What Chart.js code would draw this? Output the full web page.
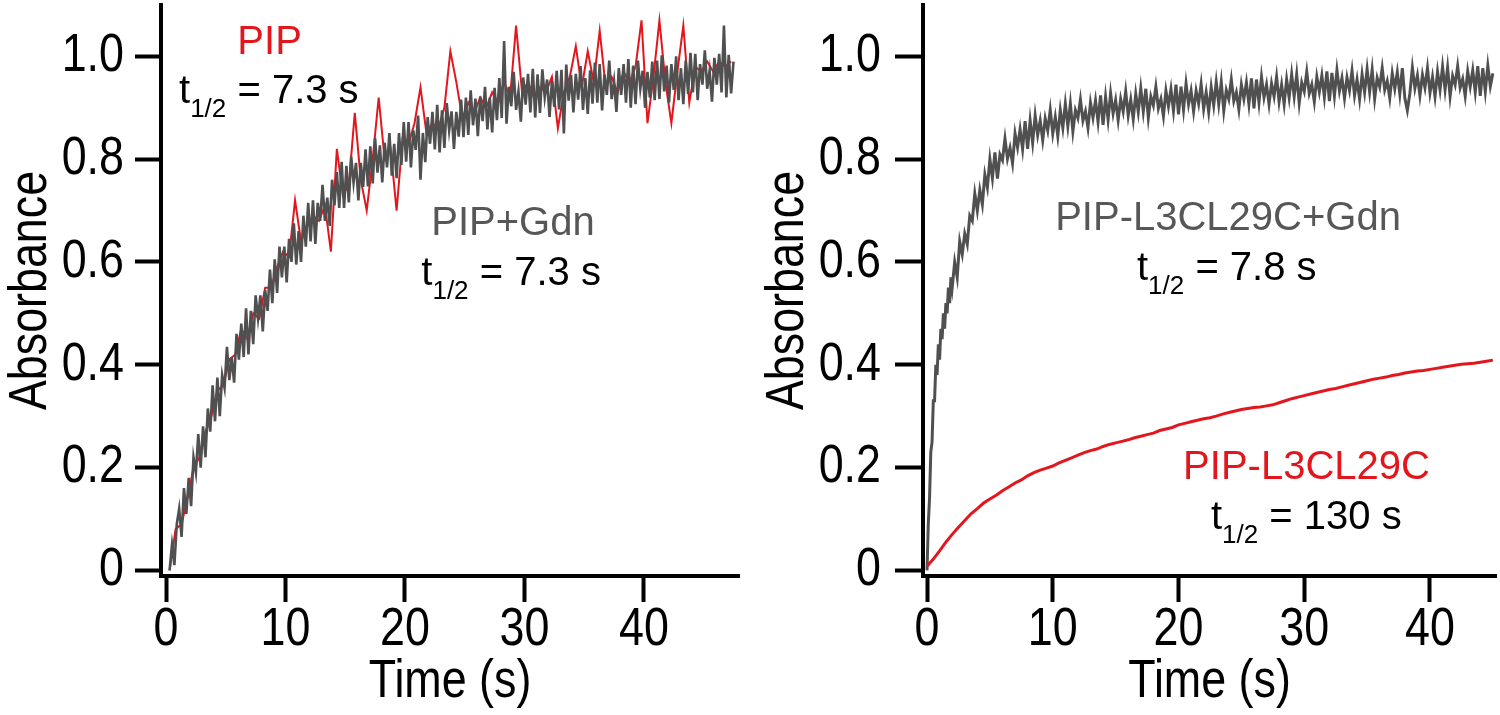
<!DOCTYPE html>
<html><head><meta charset="utf-8">
<script src="https://cdn.jsdelivr.net/npm/chart.js@4.4.1/dist/chart.umd.min.js"></script>
<style>
html,body{margin:0;padding:0;background:#fff;}
#wrap{position:relative;width:1500px;height:715px;overflow:hidden;}
.c{position:absolute;top:0;width:750px;height:715px;}
</style></head><body>
<div id="wrap">
<div class="c" style="left:0"><canvas id="left" width="750" height="715"></canvas></div>
<div class="c" style="left:750px"><canvas id="right" width="750" height="715"></canvas></div>
</div>
<script>
// ---------- data (Absorbance vs Time (s)) ----------
const xTicks = [0, 10, 20, 30, 40];
const xTickLabels = ['0', '10', '20', '30', '40'];
const yTicks = [0, 0.2, 0.4, 0.6, 0.8, 1.0];
const yTickLabels = ['0', '0.2', '0.4', '0.6', '0.8', '1.0'];

// sampling of the recorded traces (start time, interval in s)
const leftGraySampling = [0.3, 0.2];
const leftRedSampling = [0.3, 0.5];
const rightGrayFastSampling = [0, 0.1];
const rightGraySlowSampling = [2.2, 0.2];
const rightRedSampling = [0, 0.5];

// PIP+Gdn (gray, left)
const leftGray = [
0.00,0.05,0.01,0.09,
0.12,0.065,0.16,0.11,0.18,
0.125,0.22,0.19,0.265,0.20,
0.28,0.22,0.315,0.27,0.36,
0.29,0.375,0.30,0.38,0.355,
0.435,0.37,0.415,0.365,0.46,
0.41,0.48,0.415,0.51,0.42,
0.505,0.44,0.535,0.49,0.535,
0.465,0.545,0.505,0.585,0.52,
0.605,0.54,0.63,0.57,0.63,
0.56,0.645,0.60,0.675,0.595,
0.66,0.60,0.69,0.63,0.715,
0.64,0.72,0.635,0.715,0.68,
0.75,0.68,0.725,0.67,0.76,
0.71,0.775,0.705,0.795,0.705,
0.787,0.716,0.805,0.754,0.793,
0.72,0.793,0.746,0.819,0.747,
0.825,0.753,0.841,0.774,0.827,
0.755,0.832,0.784,0.851,0.768,
0.83,0.763,0.851,0.789,0.872,
0.795,0.872,0.784,0.856,0.818,
0.885,0.76,0.851,0.794,0.882,
0.83,0.892,0.819,0.906,0.813,
0.895,0.822,0.909,0.856,0.893,
0.82,0.892,0.844,0.916,0.843,
0.92,0.847,0.934,0.866,0.918,
0.845,0.922,0.874,0.941,0.858,
0.92,0.852,0.939,0.876,0.958,
0.88,1.03,0.869,0.941,0.903,
0.97,0.896,0.932,0.873,0.959,
0.906,0.966,0.891,0.976,0.881,
0.965,0.89,0.975,0.92,0.955,
0.882,0.952,0.902,0.972,0.897,
0.974,0.85,0.984,0.914,0.964,
0.891,0.966,0.916,0.981,0.896,
0.958,0.888,0.973,0.908,0.988,
0.91,0.985,0.895,0.965,0.925,
0.992,0.917,0.952,0.892,0.977,
0.925,0.985,0.91,0.995,0.90,
0.982,0.907,0.992,0.937,0.972,
0.90,0.97,0.92,0.99,0.915,
0.992,0.917,1.002,0.932,0.982,
0.91,0.985,0.935,1.00,0.915,
0.977,0.907,0.992,0.927,1.007,
0.93,1.005,0.915,0.985,0.945,
1.012,0.937,0.972,0.912,0.997,
0.945,1.005,0.93,1.06,0.92,
1.003,0.928,0.99
];

// PIP (red, left)
const leftRed = [
0.00,0.08,0.09,0.14,0.20,0.22,0.27,0.30,0.35,0.36,
0.41,0.42,0.47,0.45,0.50,0.49,0.55,0.55,0.59,0.62,
0.61,0.72,0.64,0.67,0.69,0.68,0.71,0.62,0.82,0.73,
0.75,0.89,0.76,0.70,0.80,0.92,0.80,0.82,0.70,0.84,
0.83,0.87,0.94,0.85,0.87,0.86,0.90,1.01,0.95,0.88,
0.91,0.89,0.92,0.90,0.93,0.91,0.95,0.92,1.06,0.93,
0.95,0.92,0.94,0.93,0.96,0.86,0.93,0.96,1.02,0.94,
1.01,0.95,1.05,0.94,0.96,0.93,0.97,0.95,0.98,1.07,
0.87,0.96,1.07,0.95,0.87,0.97,1.06,0.91,0.98,0.97,
0.99,0.97,0.99,0.98,0.99
];

// PIP-L3CL29C+Gdn (gray, right)
const rightGrayFast = [
0.00,0.09,0.14,0.23,0.25,0.33,0.33,0.40,0.38,0.44,
0.41,0.47,0.45,0.50,0.47,0.52,0.50,0.55,0.52,0.57,0.55
];
const rightGraySlow = [
0.60,0.57,0.64,0.615,0.655,
0.635,0.69,0.68,0.733,0.70,
0.74,0.712,0.77,0.745,0.80,
0.763,0.813,0.762,0.809,0.798,
0.84,0.801,0.822,0.792,0.85,
0.823,0.858,0.82,0.874,0.82,
0.875,0.832,0.885,0.847,0.875,
0.837,0.879,0.856,0.896,0.85,
0.882,0.845,0.895,0.861,0.908,
0.864,0.908,0.854,0.895,0.88,
0.916,0.875,0.893,0.861,0.91,
0.881,0.914,0.873,0.924,0.867,
0.921,0.877,0.928,0.889,0.915,
0.876,0.917,0.893,0.932,0.885,
0.916,0.878,0.927,0.892,0.938,
0.893,0.937,0.881,0.922,0.905,
0.941,0.899,0.917,0.884,0.933,
0.903,0.936,0.894,0.945,0.887,
0.941,0.896,0.947,0.907,0.933,
0.893,0.933,0.908,0.946,0.898,
0.93,0.892,0.94,0.905,0.95,
0.907,0.95,0.894,0.934,0.917,
0.955,0.913,0.93,0.897,0.945,
0.917,0.949,0.907,0.957,0.899,
0.955,0.91,0.96,0.92,0.945,
0.907,0.947,0.922,0.96,0.912,
0.945,0.907,0.955,0.92,0.965,
0.922,0.965,0.909,0.949,0.932,
0.97,0.928,0.945,0.912,0.96,
0.931,0.963,0.921,0.971,0.913,
0.968,0.923,0.973,0.933,0.958,
0.919,0.959,0.934,0.972,0.924,
0.955,0.917,0.965,0.93,0.975,
0.931,0.974,0.918,0.958,0.941,
0.977,0.935,0.952,0.919,0.967,
0.937,0.969,0.927,0.977,0.919,
0.895,0.928,0.978,0.938,0.963,
0.924,0.964,0.939,0.977,0.929,
0.96,0.922,0.97,0.935,0.98,
0.935,0.978,0.922,0.962,0.945,
0.981,0.939,0.956,0.923,0.971,
0.941,0.973,0.931,0.981,0.923,
0.977,0.932,0.982,0.942,0.967
];

// PIP-L3CL29C (red, right)
const rightRed = [
0.008,0.022,0.038,0.055,0.070,0.084,0.097,0.110,0.120,0.131,
0.139,0.146,0.155,0.162,0.170,0.176,0.184,0.190,0.195,0.199,
0.203,0.209,0.214,0.219,0.224,0.229,0.233,0.236,0.241,0.245,
0.248,0.251,0.254,0.258,0.261,0.264,0.267,0.272,0.275,0.278,
0.283,0.286,0.289,0.292,0.295,0.297,0.300,0.304,0.307,0.310,
0.313,0.315,0.317,0.318,0.320,0.322,0.326,0.330,0.334,0.337,
0.340,0.343,0.346,0.349,0.352,0.354,0.357,0.360,0.363,0.366,
0.369,0.372,0.374,0.376,0.379,0.381,0.384,0.386,0.388,0.389,
0.391,0.393,0.395,0.397,0.399,0.401,0.402,0.403,0.405,0.407,
0.409
];

// ---------- styling ----------
const RED = '#e2161c';
const GRAY = '#505050';
const GRAY_TEXT = '#575757';
const FONT = '"Liberation Sans", Arial, Helvetica, sans-serif';
const AX_SIZE = 54;          // axis text size (drawn condensed, like the original narrow Helvetica)
const AX_CONDENSE = 0.83;

function toPoints(values, sampling) {
  return values.map((v, i) => ({ x: sampling[0] + i * sampling[1], y: v }));
}

// Condense axis text horizontally (the original uses a narrow face that is not installed)
function condenseAxisText(canvas) {
  const ctx = canvas.getContext('2d');
  const orig = ctx.fillText.bind(ctx);
  const marker = new RegExp('(^|\\s)' + AX_SIZE + 'px');
  ctx.fillText = function (text, x, y, maxWidth) {
    if (marker.test(ctx.font)) {
      ctx.save();
      ctx.translate(x, y);
      ctx.scale(AX_CONDENSE, 1);
      orig(text, 0, 0);
      ctx.restore();
    } else if (maxWidth !== undefined) {
      orig(text, x, y, maxWidth);
    } else {
      orig(text, x, y);
    }
  };
}

const annotPlugin = {
  id: 'annot',
  afterDraw(chart, args, opts) {
    const ctx = chart.ctx;
    const xs = chart.scales.x, ys = chart.scales.y;
    for (const a of opts.items) {
      const px = xs.getPixelForValue(a.x), py = ys.getPixelForValue(a.y);
      ctx.save();
      ctx.fillStyle = a.color;
      ctx.textBaseline = 'alphabetic';
      if (a.sub) {
        ctx.textAlign = 'left';
        let x = px;
        ctx.font = '40px ' + FONT;
        ctx.fillText(a.text, x, py);
        x += ctx.measureText(a.text).width;
        ctx.font = '26px ' + FONT;
        ctx.fillText(a.sub, x, py + 14);
        x += ctx.measureText(a.sub).width;
        ctx.font = '40px ' + FONT;
        ctx.fillText(a.rest, x, py);
      } else {
        ctx.textAlign = 'center';
        ctx.font = '40px ' + FONT;
        ctx.fillText(a.text, px, py);
      }
      ctx.restore();
    }
  }
};

function makeChart(id, g, datasets, items) {
  const canvas = document.getElementById(id);
  condenseAxisText(canvas);
  const axFont = { family: FONT, size: AX_SIZE, lineHeight: 1 };
  return new Chart(canvas, {
    type: 'line',
    data: { datasets },
    plugins: [annotPlugin],
    options: {
      responsive: false,
      animation: false,
      events: [],
      layout: { padding: { left: 0, right: g.padRight, top: g.padTop, bottom: 0 } },
      elements: { point: { radius: 0 }, line: { tension: 0 } },
      plugins: { legend: { display: false }, tooltip: { enabled: false }, annot: { items } },
      scales: {
        x: {
          type: 'linear', min: g.xmin, max: g.xmax,
          afterBuildTicks: s => { s.ticks = xTicks.map(v => ({ value: v })); },
          afterFit: s => { s.height = g.xAxisHeight; s.paddingLeft = 0; s.paddingRight = 0; },
          ticks: { callback: (v, i) => xTickLabels[i], color: '#000', padding: 1, maxRotation: 0, autoSkip: false, font: axFont },
          grid: { drawOnChartArea: false, drawTicks: true, tickLength: 26, tickWidth: 4, color: '#000' },
          border: { display: true, width: 4, color: '#000' },
          title: { display: true, text: 'Time (s)', color: '#000', padding: { top: 0, bottom: 6 }, font: axFont }
        },
        y: {
          type: 'linear', min: -0.011, max: 1.10,
          afterBuildTicks: s => { s.ticks = yTicks.map(v => ({ value: v })); },
          afterFit: s => { s.width = g.yAxisWidth; s.paddingTop = 0; s.paddingBottom = 0; },
          ticks: { callback: (v, i) => yTickLabels[i], color: '#000', padding: g.yTickPad, autoSkip: false, font: axFont },
          grid: { drawOnChartArea: false, drawTicks: true, tickLength: g.yTickLen, tickWidth: 4, color: '#000' },
          border: { display: true, width: 4, color: '#000' },
          title: { display: true, text: 'Absorbance', color: '#000', padding: { top: g.yTitlePad, bottom: 0 }, font: axFont }
        }
      }
    }
  });
}

makeChart('left',
  { padRight: 11, padTop: 5, xmin: -0.42, xmax: 47.96, xAxisHeight: 139, yAxisWidth: 161, yTickPad: 11, yTickLen: 26, yTitlePad: 4 },
  [
    { label: 'PIP+Gdn', data: toPoints(leftGray, leftGraySampling), borderColor: GRAY, borderWidth: 2.6, order: 0 },
    { label: 'PIP', data: toPoints(leftRed, leftRedSampling), borderColor: RED, borderWidth: 2, order: 1 }
  ],
  [
    { text: 'PIP', x: 8.67, y: 1.004, color: RED },
    { text: 't', sub: '1/2', rest: ' = 7.3 s', x: 1.09, y: 0.910, color: '#000' },
    { text: 'PIP+Gdn', x: 29.04, y: 0.653, color: GRAY_TEXT },
    { text: 't', sub: '1/2', rest: ' = 7.3 s', x: 21.37, y: 0.556, color: '#000' }
  ]);

makeChart('right',
  { padRight: 4, padTop: 5, xmin: -0.32, xmax: 45.25, xAxisHeight: 139, yAxisWidth: 173, yTickPad: 14, yTickLen: 28, yTitlePad: 11 },
  [
    { label: 'PIP-L3CL29C', data: toPoints(rightRed, rightRedSampling), borderColor: RED, borderWidth: 3, order: 0 },
    { label: 'PIP-L3CL29C+Gdn', data: toPoints(rightGrayFast, rightGrayFastSampling).concat(toPoints(rightGraySlow, rightGraySlowSampling)), borderColor: GRAY, borderWidth: 3, order: 1 }
  ],
  [
    { text: 'PIP-L3CL29C+Gdn', x: 23.94, y: 0.662, color: GRAY_TEXT },
    { text: 't', sub: '1/2', rest: ' = 7.8 s', x: 16.7, y: 0.564, color: '#000' },
    { text: 'PIP-L3CL29C', x: 30.18, y: 0.178, color: RED },
    { text: 't', sub: '1/2', rest: ' = 130 s', x: 22.58, y: 0.080, color: '#000' }
  ]);
</script>
</body></html>
